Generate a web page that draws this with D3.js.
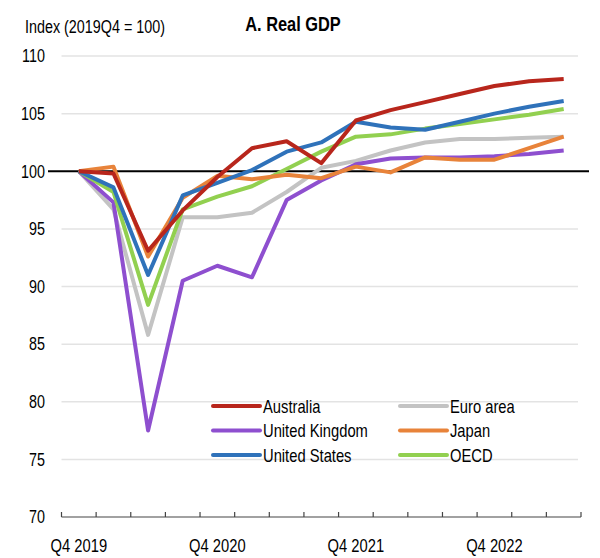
<!DOCTYPE html>
<html>
<head>
<meta charset="utf-8">
<script src="https://cdn.jsdelivr.net/npm/d3@7"></script>
<style>
  body { margin: 0; background: #fff; }
  text { font-family: "Liberation Sans", Arial, sans-serif; fill: #000; }
</style>
</head>
<body>
<div id="chart"></div>
<script>
// quarters, Q4 2019 .. Q2 2023
var quarters = ["2019Q4", "2020Q1", "2020Q2", "2020Q3", "2020Q4", "2021Q1", "2021Q2",
                "2021Q3", "2021Q4", "2022Q1", "2022Q2", "2022Q3", "2022Q4", "2023Q1", "2023Q2"];
var tickLabels = ["Q4 2019", "", "", "", "Q4 2020", "", "", "", "Q4 2021", "", "", "", "Q4 2022", "", ""];
var yTicks = [70, 75, 80, 85, 90, 95, 100, 105, 110];

var australia = [100, 99.8, 93.1, 96.6, 99.5, 102.0, 102.6, 100.7, 104.4, 105.3, 106.0, 106.7, 107.4, 107.8, 108.0];
var unitedKingdom = [100, 97.3, 77.5, 90.5, 91.8, 90.8, 97.5, 99.2, 100.6, 101.1, 101.2, 101.2, 101.3, 101.5, 101.8];
var unitedStates = [100, 98.6, 91.0, 97.9, 99.0, 100.1, 101.7, 102.5, 104.3, 103.8, 103.6, 104.3, 105.0, 105.6, 106.1];
var euroArea = [100, 96.7, 85.8, 96.0, 96.0, 96.4, 98.2, 100.3, 100.9, 101.8, 102.5, 102.8, 102.8, 102.9, 103.0];
var japan = [100, 100.4, 92.6, 97.7, 99.6, 99.3, 99.7, 99.4, 100.4, 99.9, 101.2, 101.0, 101.0, 102.0, 103.0];
var oecd = [100, 98.2, 88.4, 96.7, 97.8, 98.7, 100.2, 101.7, 103.0, 103.2, 103.7, 104.1, 104.5, 104.9, 105.4];

var series = [
  { name: "Australia", values: australia, color: "#b8261c" },
  { name: "Euro area", values: euroArea, color: "#c3c3c3" },
  { name: "United Kingdom", values: unitedKingdom, color: "#8e4fcf" },
  { name: "Japan", values: japan, color: "#e8833a" },
  { name: "United States", values: unitedStates, color: "#2f72ba" },
  { name: "OECD", values: oecd, color: "#92d050" }
];
// drawing order (back to front)
var drawOrder = ["Euro area", "United Kingdom", "OECD", "Japan", "United States", "Australia"];

var width = 600, height = 558;
var narrow = 0.82; // no narrow font installed, squeeze the regular one

var svg = d3.select("#chart").append("svg")
    .attr("width", width)
    .attr("height", height);

// text helper: place at (tx,ty) and squeeze horizontally
function addText(parent, tx, ty, str, size) {
    return parent.append("text")
        .attr("transform", "translate(" + tx + "," + ty + ") scale(" + narrow + ",1)")
        .style("font-size", size + "px")
        .text(str);
}

var x = d3.scaleBand().domain(quarters).range([61.5, 581]).padding(0);
var y = d3.scaleLinear().domain([70, 110]).range([517, 56]);
var cx = function(q) { return x(q) + x.bandwidth() / 2; };

// gridlines
svg.append("g").selectAll("line")
    .data(yTicks.filter(function(t) { return t !== 70 && t !== 100; }))
    .enter().append("line")
    .attr("x1", 61.5).attr("x2", 578)
    .attr("y1", function(d) { return y(d); })
    .attr("y2", function(d) { return y(d); })
    .style("stroke", "#e3e3e3")
    .style("stroke-width", 1.5);

// y labels
var gy = svg.append("g");
yTicks.forEach(function(t) {
    addText(gy, 45, y(t) + 6.3, t, 17.5).attr("text-anchor", "end");
});

// x axis, ticks between quarters pointing up
var xAxis = d3.axisBottom(x).tickSize(0).tickFormat(function(d, i) { return tickLabels[i]; });
var gx = svg.append("g")
    .attr("transform", "translate(0," + y(70) + ")")
    .call(xAxis);
gx.select(".domain").attr("d", "M61.5,0H581").style("stroke", "#444").style("stroke-width", 1.2);
gx.selectAll("text")
    .attr("dy", null)
    .attr("y", 35)
    .attr("transform", "scale(" + narrow + ",1)")
    .style("font-size", "18px")
    .style("font-family", "'Liberation Sans', Arial, sans-serif");
var bounds = quarters.map(function(q) { return x(q); }).concat([581]);
gx.selectAll(".qtick").data(bounds).enter().append("line")
    .attr("class", "qtick")
    .attr("x1", function(d) { return d; }).attr("x2", function(d) { return d; })
    .attr("y1", 0).attr("y2", -5)
    .style("stroke", "#444").style("stroke-width", 1.2);

// 100 baseline
svg.append("line")
    .attr("x1", 48).attr("x2", 589)
    .attr("y1", y(100)).attr("y2", y(100))
    .style("stroke", "#000")
    .style("stroke-width", 2);

// legend (no background, sits over gridlines)
var legend = svg.append("g");
series.forEach(function(s, i) {
    var col = i % 2, row = Math.floor(i / 2);
    var lx = col === 0 ? 213 : 400;
    var ly = 406 + row * 24.5;
    legend.append("line")
        .attr("x1", lx).attr("x2", lx + 47)
        .attr("y1", ly).attr("y2", ly)
        .style("stroke", s.color)
        .style("stroke-width", 4)
        .style("stroke-linecap", "round");
    addText(legend, lx + 50, ly + 6.5, s.name, 18);
});

// lines
var line = d3.line()
    .x(function(d, i) { return cx(quarters[i]); })
    .y(function(d) { return y(d); });

drawOrder.forEach(function(name) {
    var s = series.filter(function(d) { return d.name === name; })[0];
    svg.append("path")
        .datum(s.values)
        .attr("d", line)
        .style("fill", "none")
        .style("stroke", s.color)
        .style("stroke-width", 4)
        .style("stroke-linejoin", "round");
});

// titles
addText(svg, 25, 33, "Index (2019Q4 = 100)", 17.5);

addText(svg, 293, 31, "A. Real GDP", 20)
    .attr("text-anchor", "middle")
    .style("font-weight", "bold");
</script>
</body>
</html>
